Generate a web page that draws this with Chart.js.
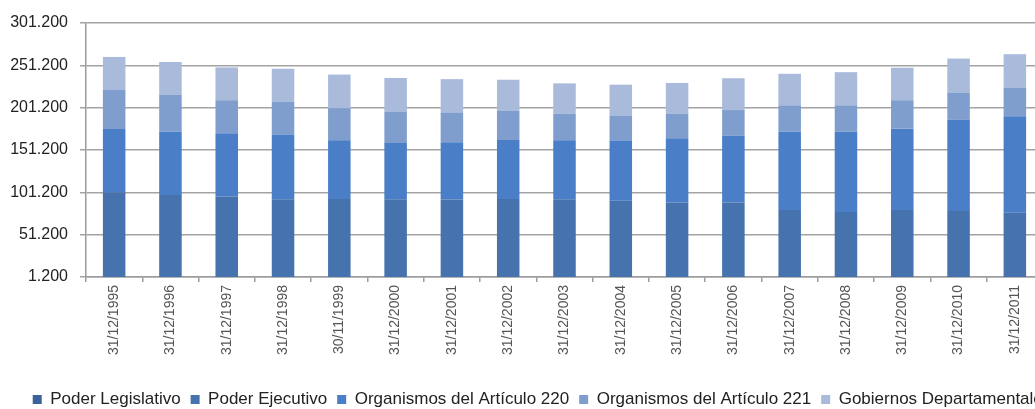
<!DOCTYPE html>
<html>
<head>
<meta charset="utf-8">
<script src="https://cdn.jsdelivr.net/npm/chart.js@4"></script>
<style>
  html, body { margin: 0; padding: 0; background: #fff; overflow: hidden; }
  #wrap { width: 1084px; height: 418px; }
</style>
</head>
<body>
<div id="wrap"><canvas id="myChart" width="1084" height="418"></canvas></div>
<script>
// fechas de corte
const fechas = [
  "31/12/1995", "31/12/1996", "31/12/1997", "31/12/1998", "30/11/1999",
  "31/12/2000", "31/12/2001", "31/12/2002", "31/12/2003", "31/12/2004",
  "31/12/2005", "31/12/2006", "31/12/2007", "31/12/2008", "31/12/2009",
  "31/12/2010", "31/12/2011"
] ;

// vinculos por inciso
const poderLegislativo = [1210, 1190, 1230, 1180, 1160, 1200, 1220, 1190, 1240, 1250, 1230, 1270, 1260, 1290, 1310, 1280, 1300] ;
const poderEjecutivo   = [99950, 96730, 95130, 91920, 92240, 91800, 91580, 92110, 91860, 89950, 87930, 87900, 79140, 76710, 79090, 77920, 75860] ;
const organismos220    = [74760, 75240, 74760, 76080, 69240, 66480, 67680, 69600, 69600, 71160, 75960, 78840, 92760, 95160, 96000, 107520, 114000] ;
const organismos221    = [46800, 43560, 38880, 38760, 38040, 37200, 35160, 34440, 31200, 29640, 28800, 30360, 30840, 30840, 33600, 32400, 33240] ;
const gobiernosDeptales = [38400, 38400, 38760, 39240, 39600, 39600, 39240, 36840, 36000, 36360, 36480, 37560, 37200, 39120, 38400, 40080, 39960] ;

// eje y
const yMin = 1200 ;
const yMax = 301200 ;
const yStep = 50000 ;

const formatMiles = (v) => String(v).replace(/\B(?=(\d{3})+(?!\d))/g, ".") ;

const ctx = document.getElementById("myChart") ;

new Chart(ctx, {
  type: "bar",
  data: {
    labels: fechas,
    datasets: [
      { label: "Poder Legislativo", data: poderLegislativo, backgroundColor: "#3b6299" },
      { label: "Poder Ejecutivo", data: poderEjecutivo, backgroundColor: "#4672ad" },
      { label: "Organismos del Artículo 220", data: organismos220, backgroundColor: "#4a7ec6" },
      { label: "Organismos del Artículo 221", data: organismos221, backgroundColor: "#7f9dcd" },
      { label: "Gobiernos Departamentales", data: gobiernosDeptales, backgroundColor: "#a9badb" }
    ]
  },
  options: {
    responsive: false,
    animation: false,
    layout: {
      padding: { left: 0, right: 0, top: 23, bottom: 0 }
    },
    datasets: {
      bar: { barPercentage: 0.5, categoryPercentage: 0.8 }
    },
    plugins: {
      tooltip: { enabled: false },
      legend: {
        position: "bottom",
        labels: {
          boxWidth: 9,
          boxHeight: 9,
          padding: 10,
          color: "#222",
          font: { family: "'Liberation Sans', Arial, sans-serif", size: 17 }
        }
      }
    },
    scales: {
      x: {
        stacked: true,
        afterFit: (scale) => { scale.height = 104 ; },
        border: { display: true, color: "#9c9c9c", width: 1.5 },
        grid: {
          offset: true,
          drawOnChartArea: false,
          drawTicks: true,
          tickLength: 5,
          color: "#9c9c9c",
          lineWidth: 1.5
        },
        ticks: {
          minRotation: 90,
          maxRotation: 90,
          padding: 3,
          color: "#555",
          font: { family: "'Liberation Sans', Arial, sans-serif", size: 14 }
        }
      },
      y: {
        stacked: true,
        min: yMin,
        max: yMax,
        afterFit: (scale) => { scale.width = 86 ; },
        border: { display: true, color: "#9c9c9c", width: 1.5 },
        grid: {
          color: "#a3a3a3",
          lineWidth: 1.5,
          tickLength: 6
        },
        ticks: {
          stepSize: yStep,
          padding: 12,
          color: "#222",
          font: { family: "'Liberation Sans', Arial, sans-serif", size: 16 },
          callback: (value) => formatMiles(value)
        }
      },
      // espacio vacio a la derecha (el grafico original esta recortado)
      yDer: {
        position: "right",
        min: yMin,
        max: yMax,
        afterFit: (scale) => { scale.width = 41 ; },
        border: { display: false },
        grid: { drawOnChartArea: false, drawTicks: false },
        ticks: { display: false }
      }
    }
  }
}) ;
</script>
</body>
</html>
